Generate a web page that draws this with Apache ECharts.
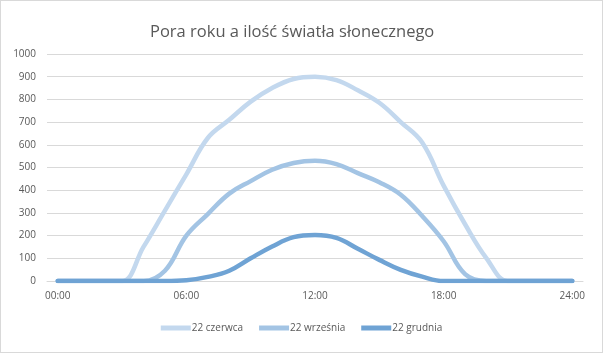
<!DOCTYPE html>
<html><head><meta charset="utf-8">
<script src="https://cdn.jsdelivr.net/npm/echarts@6/dist/echarts.min.js"></script>
<style>
html,body{margin:0;padding:0;background:#fff;}
#c{width:601px;height:351px;border:1px solid #d9d9d9;}
</style></head>
<body><div id="c"></div>
<script>
const hours = ['00:00','01:00','02:00','03:00','04:00','05:00','06:00','07:00','08:00','09:00','10:00','11:00','12:00','13:00','14:00','15:00','16:00','17:00','18:00','19:00','20:00','21:00','22:00','23:00','24:00'];
const seriesNames = ['22 czerwca','22 września','22 grudnia'];
const june = [0,0,0,0,150,310,470,630,710,790,850,890,900,885,840,785,700,610,420,250,100,0,0,0,0];
const september = [0,0,0,0,0,45,200,295,385,440,490,520,530,515,475,435,380,286,175,30,0,0,0,0,0];
const december = [0,0,0,0,0,0,3,18,45,100,152,193,203,190,142,93,49,19,0,0,0,0,0,0,0];
const yTicks = [0,100,200,300,400,500,600,700,800,900,1000];

const colors = ['#c3d8ee','#a3c4e4','#6fa3d4'];
const font = "'Open Sans', 'Liberation Sans', sans-serif";
const chart = echarts.init(document.getElementById('c'));
const mk = (name, data, i) => ({
  name, type:'line', data, smooth:0.4, symbol:'none',
  lineStyle:{color:colors[i], width:4.5, cap:'round'},
  itemStyle:{color:colors[i]}
});
chart.setOption({
  animation:false,
  title:{text:'Pora roku a ilość światła słonecznego', left:144, top:18,
    textStyle:{fontFamily:font, fontSize:16.5, fontWeight:'normal', color:'#595959'}},
  grid:{left:46, right:19, top:53, bottom:71},
  xAxis:{type:'category', data:hours, boundaryGap:true,
    axisLine:{lineStyle:{color:'#d9d9d9', width:1}}, axisTick:{show:false},
    axisLabel:{interval:5, color:'#595959', fontFamily:font, fontSize:10, margin:10}},
  yAxis:{type:'value', min:yTicks[0], max:yTicks[yTicks.length-1], interval:100,
    axisLine:{show:false}, axisTick:{show:false},
    splitLine:{lineStyle:{color:'#d9d9d9', width:1}},
    axisLabel:{color:'#595959', fontFamily:font, fontSize:10, margin:11, formatter:v=>String(v)}},
  legend:{bottom:14, left:'center', itemWidth:30, itemHeight:5, itemGap:16, icon:'rect',
    textStyle:{color:'#595959', fontFamily:font, fontSize:10, padding:[0,0,0,-4]},
    data:seriesNames},
  series:[mk(seriesNames[0], june, 0), mk(seriesNames[1], september, 1), mk(seriesNames[2], december, 2)]
});
</script></body></html>
